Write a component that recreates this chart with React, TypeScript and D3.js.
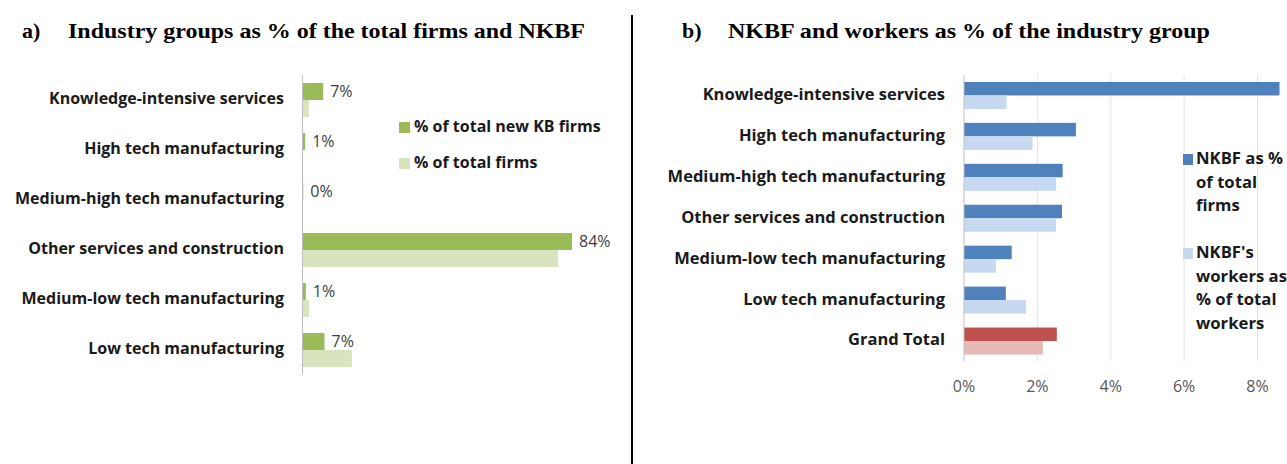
import React from "react";
import * as d3 from "d3";

const categoriesA = [
  "Knowledge-intensive services",
  "High tech manufacturing",
  "Medium-high tech manufacturing",
  "Other services and construction",
  "Medium-low tech manufacturing",
  "Low tech manufacturing",
];
const newKBFirmsPct = [6.6, 1.0, 0.4, 84.0, 1.2, 7.0];
const totalFirmsPct = [2.1, 0.3, 0.2, 79.7, 2.2, 15.5];

const categoriesB = [
  "Knowledge-intensive services",
  "High tech manufacturing",
  "Medium-high tech manufacturing",
  "Other services and construction",
  "Medium-low tech manufacturing",
  "Low tech manufacturing",
  "Grand Total",
];
const nkbfPctFirms = [8.6, 3.05, 2.69, 2.67, 1.3, 1.14, 2.53];
const nkbfPctWorkers = [1.16, 1.87, 2.51, 2.51, 0.87, 1.69, 2.15];
const ticksB = [0, 2, 4, 6, 8];

const legendA = ["% of total new KB firms", "% of total firms"];
const legendB1 = ["NKBF as %", "of total", "firms"];
const legendB2 = ["NKBF's", "workers as", "% of total", "workers"];

const GREEN = "#9bbb59";
const GREEN_L = "#d7e4bd";
const BLUE = "#4f81bd";
const BLUE_L = "#c6d9f1";
const RED = "#c0504d";
const RED_L = "#e6b9b8";
const FONT = "'Open Sans', Lato, sans-serif";
const SERIF = "'Liberation Serif', 'Times New Roman', serif";

export default function App() {
  const W = 1287;
  const H = 464;

  // Panel a
  const xA = d3.scaleLinear().domain([0, 84]).range([302, 572]);
  const yA = d3.scaleBand<string>().domain(categoriesA).range([75, 375]).paddingInner(0.32).paddingOuter(0.16);
  const bwA = yA.bandwidth() / 2;

  // Panel b
  const xB = d3.scaleLinear().domain([0, 8]).range([964, 1257.5]);
  const yB = d3.scaleBand<string>().domain(categoriesB).range([75, 361.5]).paddingInner(0.34).paddingOuter(0.17);
  const bwB = yB.bandwidth() / 2;

  return (
    <svg
      width={W}
      height={H}
      viewBox={`0 0 ${W} ${H}`}
      style={{ position: "fixed", left: 0, top: 0, background: "#fff" }}
    >
      <rect x={0} y={0} width={W} height={H} fill="#fff" />
      {/* Titles */}
      <g fontFamily={SERIF} fontWeight="bold" fontSize={22} fill="#000">
        <text x={22} y={37.5}>a)</text>
        <text x={68} y={37.5} textLength={517} lengthAdjust="spacingAndGlyphs">
          Industry groups as % of the total firms and NKBF
        </text>
        <text x={682} y={37.5}>b)</text>
        <text x={728} y={37.5} textLength={482} lengthAdjust="spacingAndGlyphs">
          NKBF and workers as % of the industry group
        </text>
      </g>
      <line x1={632} x2={632} y1={15} y2={H} stroke="#000" strokeWidth={2} />

      {/* Panel a */}
      <g fontFamily={FONT}>
        {categoriesA.map((c, i) => {
          const y0 = yA(c)!;
          return (
            <g key={c}>
              <rect x={xA(0)} y={y0} width={xA(newKBFirmsPct[i]) - xA(0)} height={bwA} fill={GREEN} />
              <rect x={xA(0)} y={y0 + bwA} width={xA(totalFirmsPct[i]) - xA(0)} height={bwA} fill={GREEN_L} />
              <text
                x={xA(newKBFirmsPct[i]) + 7}
                y={y0 + bwA / 2 + 1}
                dominantBaseline="middle"
                fontSize={16}
                fill="#404040"
              >
                {Math.round(newKBFirmsPct[i]) + "%"}
              </text>
              <text
                x={284}
                y={y0 + bwA}
                textAnchor="end"
                dominantBaseline="middle"
                fontSize={16}
                fontWeight="bold"
                fill="#1a1a1a"
              >
                {c}
              </text>
            </g>
          );
        })}
        <line x1={xA(0) + 0.5} x2={xA(0) + 0.5} y1={75} y2={375} stroke="#bfbfbf" strokeWidth={1} />
        {legendA.map((l, i) => (
          <g key={l}>
            <rect x={399} y={122 + i * 36} width={11} height={11} fill={i === 0 ? GREEN : GREEN_L} />
            <text x={414} y={128 + i * 36} dominantBaseline="middle" fontSize={16} fontWeight="bold" fill="#1a1a1a">
              {l}
            </text>
          </g>
        ))}
      </g>

      {/* Panel b */}
      <g fontFamily={FONT}>
        {ticksB.map((t) => (
          <g key={t}>
            {t > 0 && (
              <line x1={xB(t)} x2={xB(t)} y1={75} y2={361.5} stroke="#e3e3e3" strokeWidth={1} />
            )}
            <text x={xB(t)} y={388} textAnchor="middle" dominantBaseline="middle" fontSize={16} fill="#595959">
              {t + "%"}
            </text>
          </g>
        ))}
        {categoriesB.map((c, i) => {
          const y0 = yB(c)!;
          const isTotal = c === "Grand Total";
          return (
            <g key={c}>
              <rect x={xB(0)} y={y0} width={xB(nkbfPctFirms[i]) - xB(0)} height={bwB} fill={isTotal ? RED : BLUE} />
              <rect
                x={xB(0)}
                y={y0 + bwB}
                width={xB(nkbfPctWorkers[i]) - xB(0)}
                height={bwB}
                fill={isTotal ? RED_L : BLUE_L}
              />
              <text
                x={945}
                y={y0 + bwB}
                textAnchor="end"
                dominantBaseline="middle"
                fontSize={16.5}
                fontWeight="bold"
                fill="#1a1a1a"
              >
                {c}
              </text>
            </g>
          );
        })}
        <line x1={xB(0)} x2={xB(0)} y1={75} y2={361.5} stroke="#bfbfbf" strokeWidth={1} />
        <rect x={1183} y={154} width={10} height={11} fill={BLUE} />
        {legendB1.map((l, i) => (
          <text key={l} x={1196} y={160 + i * 23.5} dominantBaseline="middle" fontSize={16.7} fontWeight="bold" fill="#1a1a1a">
            {l}
          </text>
        ))}
        <rect x={1183} y={248} width={10} height={11} fill={BLUE_L} />
        {legendB2.map((l, i) => (
          <text key={l} x={1196} y={254 + i * 23.5} dominantBaseline="middle" fontSize={16.7} fontWeight="bold" fill="#1a1a1a">
            {l}
          </text>
        ))}
      </g>
    </svg>
  );
}
